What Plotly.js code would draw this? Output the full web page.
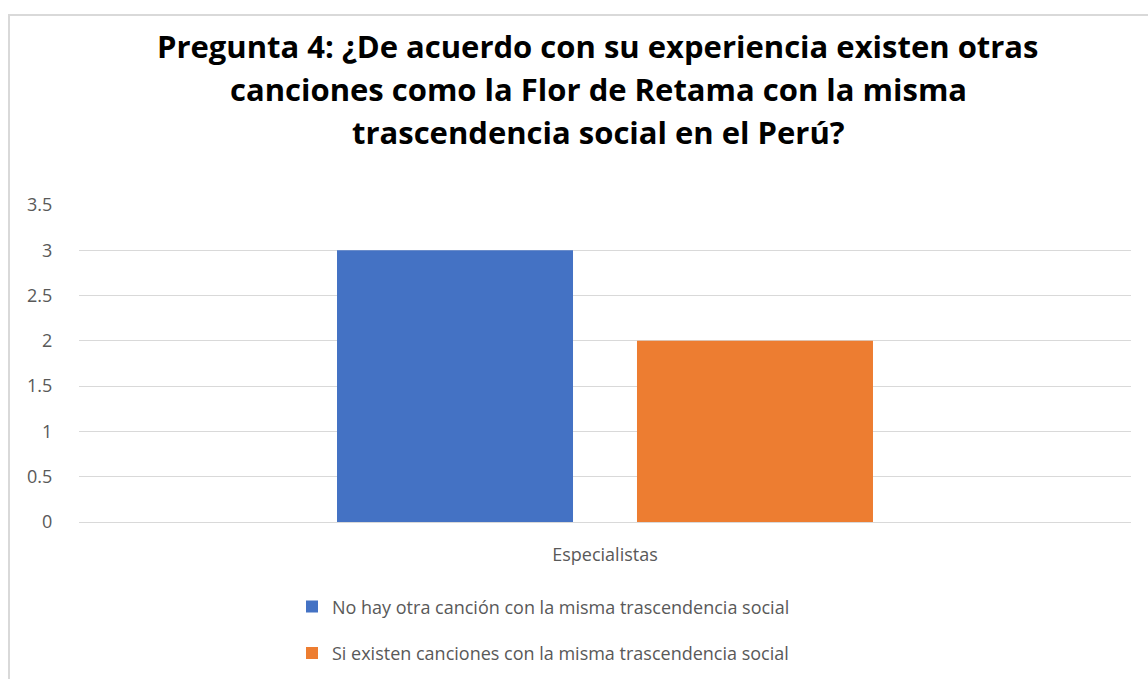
<!DOCTYPE html>
<html>
<head>
<meta charset="utf-8">
<script src="https://cdn.plot.ly/plotly-3.0.1.min.js"></script>
<style>
html,body{margin:0;padding:0;background:#fff;overflow:hidden;}
#frame{position:absolute;left:8px;top:14px;width:1200px;height:700px;border:2px solid #d9d9d9;box-sizing:border-box;}
#chart{position:absolute;left:0;top:0;width:1148px;height:679px;}
</style>
</head>
<body>
<div id="frame"></div>
<div id="chart"></div>
<script>
const titleLines = [
  "Pregunta 4: ¿De acuerdo con su experiencia existen otras",
  "canciones como la Flor de Retama con la misma",
  "trascendencia social en el Perú?"
];
const categories = ["Especialistas"];
const seriesNames = [
  "No hay otra canción con la misma trascendencia social",
  "Si existen canciones con la misma trascendencia social"
];
const seriesValues = [[3], [2]];
const seriesColors = ["#4472C4", "#ED7D31"];
const yTicks = [0, 0.5, 1, 1.5, 2, 2.5, 3, 3.5];

const traces = seriesNames.map((n, i) => ({
  type: "bar",
  name: n,
  x: categories,
  y: seriesValues[i],
  marker: {color: seriesColors[i]},
  legendgroup: "g" + i,
  hoverinfo: "skip"
}));

const titleY = [46, 89, 132];
const annotations = titleLines.map((t, i) => ({
  text: "<b>" + t + "</b>",
  xref: "paper", yref: "paper",
  x: (598 - 79) / 1052,
  y: (522 - titleY[i]) / 317,
  xanchor: "center", yanchor: "middle",
  showarrow: false,
  font: {family: "Open Sans", size: 31, color: "#000"}
}));

const layout = {
  width: 1148, height: 679,
  margin: {l: 79, r: 17, t: 205, b: 157, autoexpand: false},
  paper_bgcolor: "rgba(0,0,0,0)",
  plot_bgcolor: "rgba(0,0,0,0)",
  font: {family: "Open Sans", size: 18, color: "#595959"},
  barmode: "group",
  bargap: 0.4297,
  bargroupgap: 0.2133,
  showlegend: true,
  legend: {
    orientation: "v",
    x: (292 - 79) / 1052, xanchor: "left",
    yref: "container",
    y: 0.1334, yanchor: "top",
    font: {family: "Open Sans", size: 18, color: "#595959"},
    tracegroupgap: 20,
    traceorder: "grouped"
  },
  xaxis: {
    showline: true, linecolor: "#d9d9d9", linewidth: 1,
    ticks: "outside", ticklen: 16, tickcolor: "rgba(0,0,0,0)",
    tickfont: {family: "Open Sans", size: 18, color: "#595959"}
  },
  yaxis: {
    range: [0, 3.5],
    tickvals: yTicks,
    ticktext: yTicks.map(String),
    showgrid: true, gridcolor: "#d9d9d9", gridwidth: 1,
    zeroline: false, showline: false,
    ticks: "outside", ticklen: 22, tickcolor: "rgba(0,0,0,0)",
    tickfont: {family: "Open Sans", size: 18, color: "#595959"}
  },
  annotations: annotations
};

Plotly.newPlot("chart", traces, layout, {displayModeBar: false, staticPlot: true});
</script>
</body>
</html>
